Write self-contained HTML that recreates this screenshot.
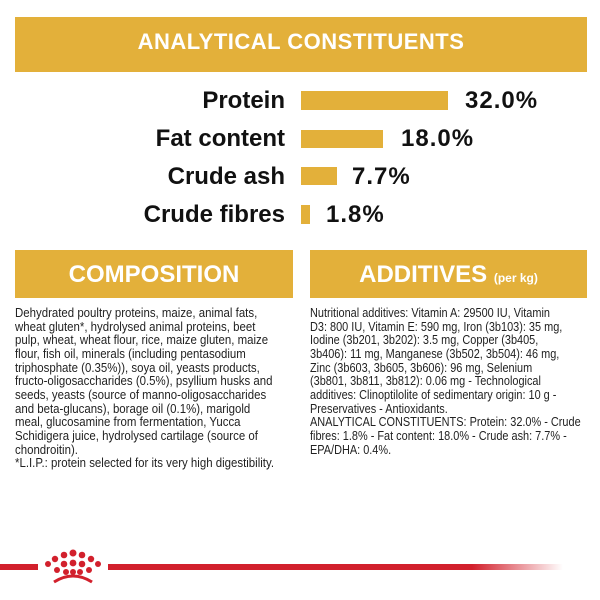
<!DOCTYPE html>
<html><head><style>
body{margin:0;width:600px;height:600px;background:#fff;position:relative;overflow:hidden;font-family:"Liberation Sans",sans-serif}
.bar{position:absolute;background:#e3b03a}
.hd{position:absolute;background:#e3b03a;color:#fff;font-weight:bold;text-align:center}
.lab{position:absolute;right:315px;font-weight:bold;font-size:24px;color:#111;line-height:24px;white-space:nowrap}
.val{position:absolute;font-weight:bold;font-size:24px;color:#111;line-height:24px;letter-spacing:1px}
.txt{position:absolute;top:306px;font-family:"Liberation Sans",sans-serif;font-size:13px;line-height:13.65px;color:#222;white-space:nowrap;transform:scaleX(0.84);transform-origin:0 0}
</style></head><body>
<div class="hd" style="left:15px;top:17px;width:572px;height:55px;line-height:50px;font-size:22px;letter-spacing:0.5px">ANALYTICAL CONSTITUENTS</div>

<div class="lab" style="top:89px">Protein</div>
<div class="bar" style="left:301px;top:91px;width:147px;height:19px"></div>
<div class="val" style="left:465px;top:89px">32.0%</div>

<div class="lab" style="top:127px">Fat content</div>
<div class="bar" style="left:301px;top:130px;width:82px;height:18px"></div>
<div class="val" style="left:401px;top:127px">18.0%</div>

<div class="lab" style="top:165px">Crude ash</div>
<div class="bar" style="left:301px;top:167px;width:36px;height:18px"></div>
<div class="val" style="left:352px;top:165px">7.7%</div>

<div class="lab" style="top:203px">Crude fibres</div>
<div class="bar" style="left:301px;top:205px;width:9px;height:19px"></div>
<div class="val" style="left:326px;top:203px">1.8%</div>

<div class="hd" style="left:15px;top:250px;width:278px;height:48px;line-height:50px;font-size:24px">COMPOSITION</div>
<div class="hd" style="left:310px;top:250px;width:277px;height:48px;line-height:50px;font-size:24px">ADDITIVES <span style="font-size:12px">(per kg)</span></div>

<div class="txt" style="left:15px;transform:scaleX(0.88)">Dehydrated poultry proteins, maize, animal fats,<br>wheat gluten*, hydrolysed animal proteins, beet<br>pulp, wheat, wheat flour, rice, maize gluten, maize<br>flour, fish oil, minerals (including pentasodium<br>triphosphate (0.35%)), soya oil, yeasts products,<br>fructo-oligosaccharides (0.5%), psyllium husks and<br>seeds, yeasts (source of manno-oligosaccharides<br>and beta-glucans), borage oil (0.1%), marigold<br>meal, glucosamine from fermentation, Yucca<br>Schidigera juice, hydrolysed cartilage (source of<br>chondroitin).<br>*L.I.P.: protein selected for its very high digestibility.</div>
<div class="txt" style="left:310px">Nutritional additives: Vitamin A: 29500 IU, Vitamin<br>D3: 800 IU, Vitamin E: 590 mg, Iron (3b103): 35 mg,<br>Iodine (3b201, 3b202): 3.5 mg, Copper (3b405,<br>3b406): 11 mg, Manganese (3b502, 3b504): 46 mg,<br>Zinc (3b603, 3b605, 3b606): 96 mg, Selenium<br>(3b801, 3b811, 3b812): 0.06 mg - Technological<br>additives: Clinoptilolite of sedimentary origin: 10 g -<br>Preservatives - Antioxidants.<br>ANALYTICAL CONSTITUENTS: Protein: 32.0% - Crude<br>fibres: 1.8% - Fat content: 18.0% - Crude ash: 7.7% -<br>EPA/DHA: 0.4%.</div>

<div style="position:absolute;left:0;top:564px;width:38px;height:6px;background:#d2202c"></div>
<div style="position:absolute;left:108px;top:564px;width:455px;height:6px;background:linear-gradient(to right,#d2202c 0%,#d2202c 80%,rgba(210,32,44,0) 100%)"></div>
<svg style="position:absolute;left:40px;top:548px" width="66" height="38" viewBox="0 0 66 38">
<g fill="#d2202c">
<circle cx="33" cy="5" r="3.5"/><circle cx="24" cy="7" r="3.3"/><circle cx="42" cy="7" r="3.3"/><circle cx="15" cy="11" r="3.2"/><circle cx="51" cy="11" r="3.2"/>
<circle cx="8" cy="16" r="3"/><circle cx="58" cy="16" r="3"/>
<circle cx="24" cy="16" r="3.3"/><circle cx="33" cy="15" r="3.4"/><circle cx="42" cy="16" r="3.3"/>
<circle cx="17" cy="22" r="3"/><circle cx="49" cy="22" r="3"/><circle cx="26" cy="24" r="3"/><circle cx="33" cy="24" r="3"/><circle cx="40" cy="24" r="3"/>
</g>
<path d="M14 34 Q33 22 52 34" stroke="#d2202c" stroke-width="3" fill="none"/>
</svg>
</body></html>
